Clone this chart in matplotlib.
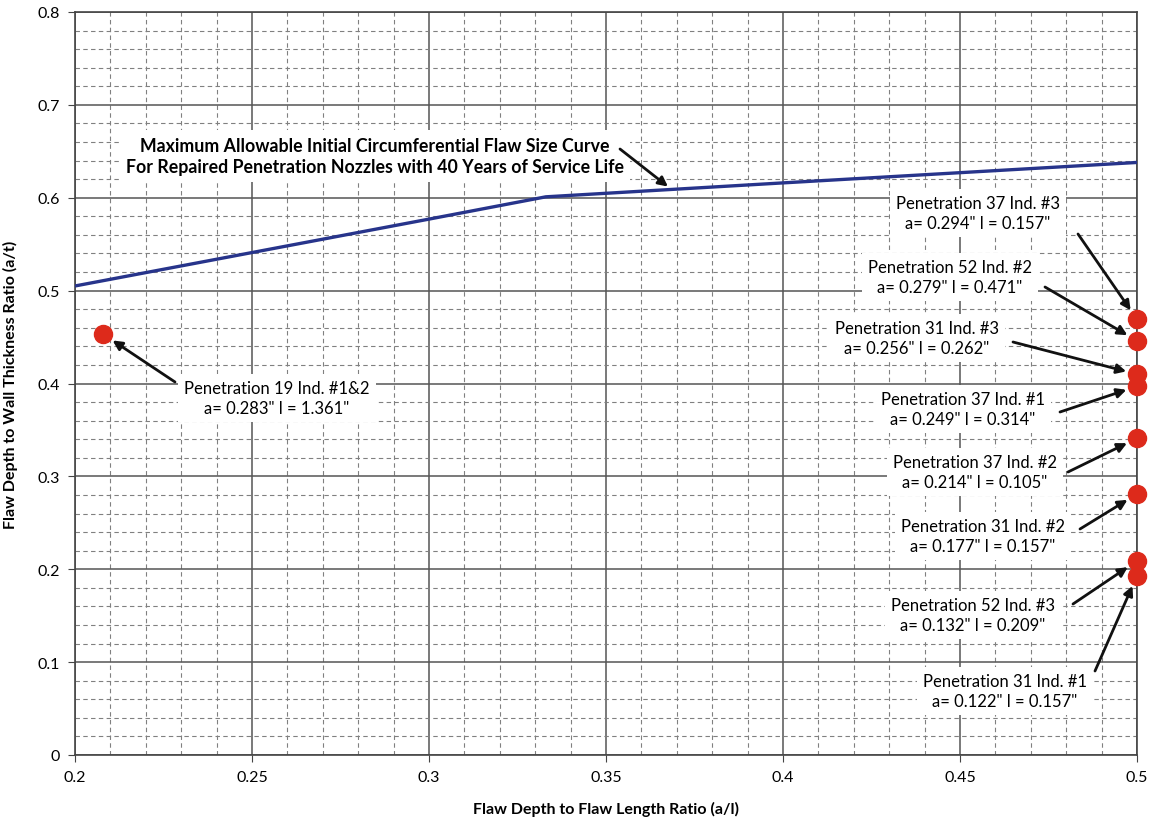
# -*- coding: utf-8 -*-
import matplotlib
matplotlib.use('Agg')
import matplotlib.pyplot as plt
from matplotlib.ticker import MultipleLocator, FormatStrFormatter

plt.rcParams['font.family'] = ['Lato', 'DejaVu Sans']

# ---------------------------------------------------------------
# DADOS

# curva de tamanho máximo admissível
curva_x = [0.2, 0.25, 0.3, 0.333, 0.4, 0.45, 0.5]
curva_y = [0.505, 0.541, 0.577, 0.601, 0.616, 0.627, 0.638]

# indicações (a/l, a/t)
pontos_x = [0.208, 0.5, 0.5, 0.5, 0.5, 0.5, 0.5, 0.5, 0.5]
pontos_y = [0.453, 0.469, 0.446, 0.410, 0.397, 0.341, 0.281, 0.209, 0.193]
rotulos = [
    'Penetration 19 Ind. #1&2\na= 0.283" l = 1.361"',
    'Penetration 37 Ind. #3\na= 0.294" l = 0.157"',
    'Penetration 52 Ind. #2\na= 0.279" l = 0.471"',
    'Penetration 31 Ind. #3\na= 0.256" l = 0.262"',
    'Penetration 37 Ind. #1\na= 0.249" l = 0.314"',
    'Penetration 37 Ind. #2\na= 0.214" l = 0.105"',
    'Penetration 31 Ind. #2\na= 0.177" l = 0.157"',
    'Penetration 52 Ind. #3\na= 0.132" l = 0.209"',
    'Penetration 31 Ind. #1\na= 0.122" l = 0.157"',
]

titulo_curva = ('Maximum Allowable Initial Circumferential Flaw Size Curve\n'
                'For Repaired Penetration Nozzles with 40 Years of Service Life')

# posição dos textos e origem das setas (pixels da figura)
texto_px = [(277, 399), (978, 214), (950, 278), (917, 339), (963, 410),
            (975, 473), (983, 537), (973, 616), (1005, 692)]
cauda_px = [(175, 383), (1078, 235), (1045, 288), (1013, 343), (1060, 413),
            (1068, 473), (1080, 530), (1073, 605), (1095, 672)]

# ---------------------------------------------------------------
# FIGURA

W, H = 1151, 820
fig = plt.figure(figsize=(W/100, H/100), dpi=100)
ax = fig.add_axes([75/W, 1 - 756/H, (1137-75)/W, (756-13)/H])


def px(p):
    ''' pixel da figura -> coordenadas de figura '''
    return (p[0]/W, 1 - p[1]/H)


ax.set_xlim(0.2, 0.5)
ax.set_ylim(0, 0.8)
ax.xaxis.set_major_locator(MultipleLocator(0.05))
ax.xaxis.set_minor_locator(MultipleLocator(0.01))
ax.yaxis.set_major_locator(MultipleLocator(0.1))
ax.yaxis.set_minor_locator(MultipleLocator(0.02))
ax.xaxis.set_major_formatter(FormatStrFormatter('%g'))
ax.yaxis.set_major_formatter(FormatStrFormatter('%g'))

ax.grid(which='major', color='#555555', linewidth=1.1)
ax.grid(which='minor', color='#808080', linewidth=0.8, linestyle=(0, (4, 3)))
ax.set_axisbelow(True)
for s in ax.spines.values():
    s.set_color('#444444')
    s.set_linewidth(1.2)
ax.tick_params(which='minor', length=0)
ax.tick_params(which='major', length=5, color='#444444', labelsize=11.5,
               pad=6)

ax.plot(curva_x, curva_y, color='#27348b', linewidth=2.4, zorder=3)
ax.plot(pontos_x, pontos_y, 'o', color='#dd2a1b', markersize=13,
        zorder=4, clip_on=False)

caixa = dict(boxstyle='square,pad=0.35', fc='white', ec='none')
seta = dict(arrowstyle='-|>', color='#111111', lw=2.0, mutation_scale=14,
            shrinkA=0, shrinkB=8)

for xv, yv, rot, tp, cp in zip(pontos_x, pontos_y, rotulos, texto_px,
                               cauda_px):
    ax.text(*px(tp), rot, transform=fig.transFigure, ha='center',
            va='center', fontsize=12, linespacing=1.3, bbox=caixa, zorder=5)
    ax.annotate('', xy=(xv, yv), xytext=px(cp), textcoords='figure fraction',
                arrowprops=seta, zorder=6)

# rótulo da curva
ax.text(*px((375, 157)), titulo_curva, transform=fig.transFigure,
        ha='center', va='center', fontsize=12.8, fontweight='bold',
        linespacing=1.35, bbox=caixa, zorder=5)
ax.annotate('', xy=(0.3675, 0.612), xytext=px((620, 150)),
            textcoords='figure fraction',
            arrowprops=dict(seta, shrinkB=0), zorder=6)

ax.set_xlabel('Flaw Depth to Flaw Length Ratio (a/l)', fontsize=11.5,
              fontweight='bold', labelpad=12)
ax.set_ylabel('Flaw Depth to Wall Thickness Ratio (a/t)', fontsize=11.5,
              fontweight='bold', labelpad=14)

fig.savefig('out.png', dpi=100)
